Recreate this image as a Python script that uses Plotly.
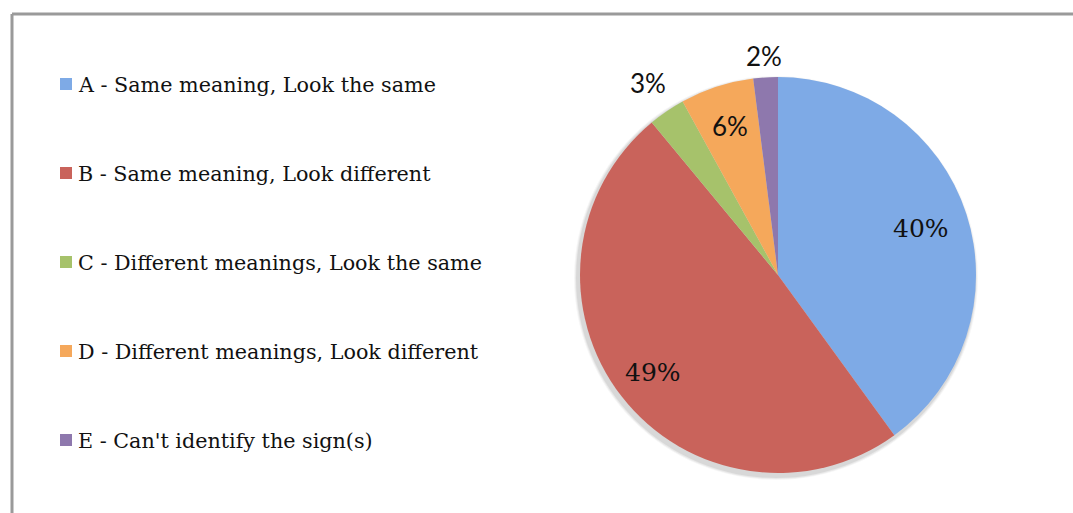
import math
import plotly.graph_objects as go

# Survey response categories and their shares (percent)
categories = [
    "A - Same meaning, Look the same",
    "B - Same meaning, Look different",
    "C - Different meanings, Look the same",
    "D - Different meanings, Look different",
    "E - Can't identify the sign(s)",
]
shares = [40, 49, 3, 6, 2]

slice_colors = ["#7eaae6", "#c9635b", "#a6c26b", "#f5a85b", "#8e78ad"]

# Percentage label styling per slice: font and radial distance (in radii)
label_fonts = ["DejaVu Serif", "DejaVu Serif", "Lato", "Lato", "Lato"]
label_sizes = [25, 25, 26, 26, 26]
label_radius = [0.76, 0.80, 1.17, 0.79, 1.11]

W, H = 1073, 513
cx, cy, r = 778, 275, 198

fig = go.Figure()

fig.add_trace(go.Pie(
    labels=categories,
    values=shares,
    sort=False,
    direction="clockwise",
    rotation=0,
    marker=dict(colors=slice_colors, line=dict(width=0)),
    textinfo="none",
    domain=dict(
        x=[(cx - 240) / W, (cx + 240) / W],
        y=[(H - cy - r) / H, (H - cy + r) / H],
    ),
    showlegend=False,
    hoverinfo="label+percent",
))

shapes = []
annotations = []

# Soft shadow behind the pie, offset down and to the left
for k, alpha in enumerate([0.035, 0.05, 0.07]):
    grow = 4 - k
    shapes.append(dict(
        type="circle", xref="paper", yref="paper", layer="below",
        x0=(cx - 2 - r - grow) / W, x1=(cx - 2 + r + grow) / W,
        y0=(H - cy - 3 - r - grow) / H, y1=(H - cy - 3 + r + grow) / H,
        fillcolor=f"rgba(0,0,0,{alpha})", line=dict(width=0),
    ))

# Percentage labels placed along each slice's mid-angle
total = sum(shares)
cum = 0
for v, fam, size, rf in zip(shares, label_fonts, label_sizes, label_radius):
    mid = (cum + v / 2) / total * 2 * math.pi
    cum += v
    px = cx + rf * r * math.sin(mid)
    py = cy - rf * r * math.cos(mid)
    annotations.append(dict(
        text=f"{round(v / total * 100)}%", xref="paper", yref="paper",
        x=px / W, y=(H - py) / H, xanchor="center", yanchor="middle",
        showarrow=False, font=dict(family=fam, size=size, color="#111111"),
    ))

# Legend: colour squares with labels, evenly spaced down the left side
leg_x, leg_y0, leg_step = 60, 85, 89
for i, (name, col) in enumerate(zip(categories, slice_colors)):
    yc = leg_y0 + i * leg_step
    shapes.append(dict(
        type="rect", xref="paper", yref="paper",
        x0=leg_x / W, x1=(leg_x + 12) / W,
        y0=(H - yc - 5) / H, y1=(H - yc + 7) / H,
        fillcolor=col, line=dict(width=0),
    ))
    annotations.append(dict(
        text=name, xref="paper", yref="paper",
        x=(leg_x + 16) / W, y=(H - yc) / H,
        xanchor="left", yanchor="middle", showarrow=False,
        font=dict(family="DejaVu Serif", size=20.7, color="#111111"),
    ))

# Grey frame along the top and left edges
shapes.append(dict(type="line", xref="paper", yref="paper",
                   x0=12 / W, x1=1.01, y0=(H - 14) / H, y1=(H - 14) / H,
                   line=dict(color="#9a9a9a", width=3)))
shapes.append(dict(type="line", xref="paper", yref="paper",
                   x0=12 / W, x1=12 / W, y0=-0.01, y1=(H - 14) / H,
                   line=dict(color="#9a9a9a", width=3)))

fig.update_layout(
    width=W, height=H,
    margin=dict(l=0, r=0, t=0, b=0),
    paper_bgcolor="white",
    plot_bgcolor="white",
    shapes=shapes,
    annotations=annotations,
)

fig.write_html("out.html")
